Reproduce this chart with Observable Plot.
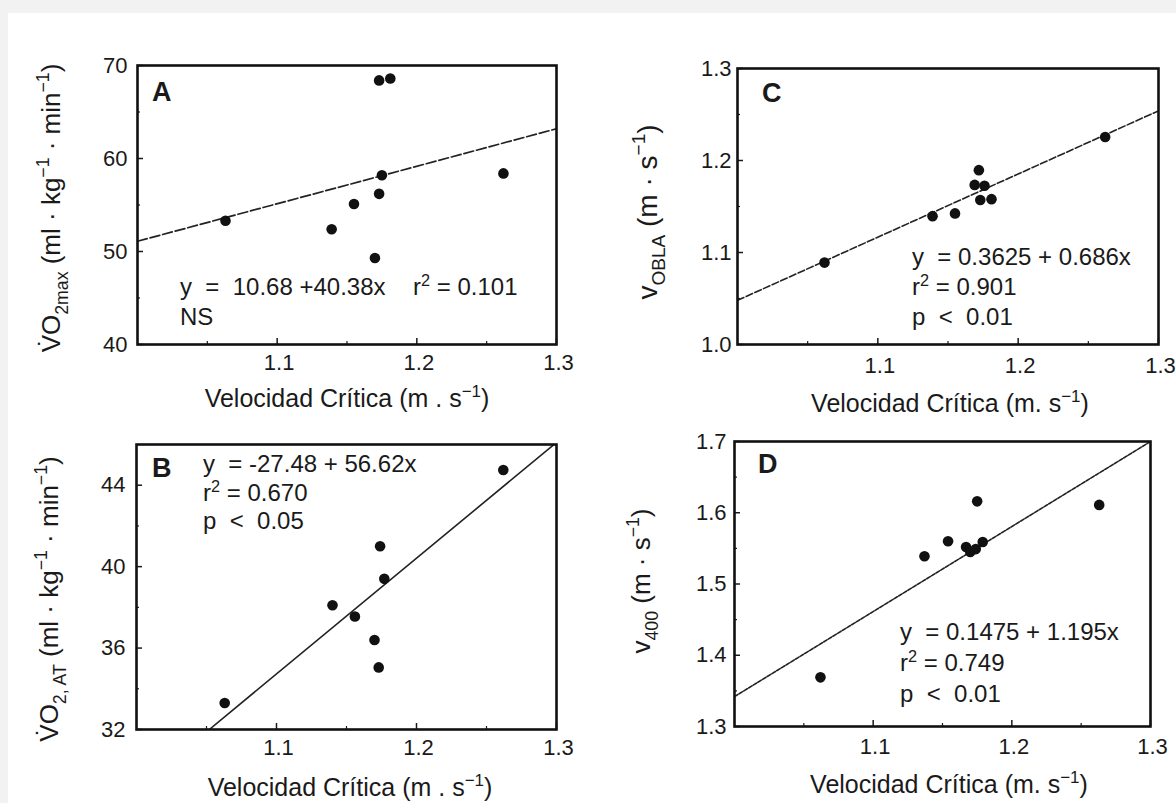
<!DOCTYPE html>
<html><head><meta charset="utf-8">
<script src="https://cdn.jsdelivr.net/npm/d3@7"></script>
<script src="https://cdn.jsdelivr.net/npm/@observablehq/plot@0.6"></script>
<style>
html,body{margin:0;padding:0;background:#f2f2f2;}
#page{position:relative;width:1176px;height:803px;background:#f2f2f2;overflow:hidden;}
#sheet{position:absolute;left:8px;top:13px;right:0;bottom:0;background:#fff;}
#page svg{position:absolute;overflow:visible;}
</style></head>
<body><div id="page"><div id="sheet"></div></div>
<script>
// ---- data ----
const xA = [1.063, 1.139, 1.155, 1.170, 1.173, 1.175, 1.173, 1.181, 1.262];
const yA = [53.3, 52.4, 55.1, 49.3, 56.2, 58.2, 68.4, 68.6, 58.4];
const xB = [1.063, 1.140, 1.156, 1.170, 1.173, 1.174, 1.177, 1.262];
const yB = [33.3, 38.1, 37.55, 36.4, 35.05, 41.0, 39.4, 44.75];
const xC = [1.062, 1.139, 1.155, 1.169, 1.172, 1.176, 1.173, 1.181, 1.262];
const yC = [1.089, 1.1395, 1.1425, 1.1735, 1.1895, 1.1725, 1.157, 1.158, 1.2256];
const xD = [1.062, 1.137, 1.154, 1.167, 1.170, 1.174, 1.179, 1.175, 1.263];
const yD = [1.369, 1.539, 1.560, 1.552, 1.545, 1.549, 1.559, 1.616, 1.611];

// regression lines (end points)
const lineXA = [1.0, 1.3],   lineYA = [51.1, 63.2];
const lineXB = [1.052, 1.3], lineYB = [32, 46.1];
const lineXC = [1.0, 1.3],   lineYC = [1.048, 1.254];
const lineXD = [1.0, 1.3],   lineYD = [1.342, 1.70];

// ticks
const xTicks = [1.1, 1.2, 1.3];
const xMinor = [1.05, 1.15, 1.25];
const yTicksA = [40, 50, 60, 70], yMinorA = [45, 55, 65];
const yTicksB = [32, 36, 40, 44], yMinorB = [34, 38, 42];
const yTicksC = [1.0, 1.1, 1.2, 1.3], yMinorC = [1.05, 1.15, 1.25];
const yTicksD = [1.3, 1.4, 1.5, 1.6, 1.7], yMinorD = [1.35, 1.45, 1.55, 1.65];

// texts
const stats = {
  A: [["y  =  10.68 +40.38x"], ["NS"]],
  B: [["y  = -27.48 + 56.62x"], ["r", "2", " = 0.670"], ["p  <  0.05"]],
  C: [["y  = 0.3625 + 0.686x"], ["r", "2", " = 0.901"], ["p  <  0.01"]],
  D: [["y  = 0.1475 + 1.195x"], ["r", "2", " = 0.749"], ["p  <  0.01"]]
};

const FONT = '"Liberation Sans", Arial, Helvetica, sans-serif';
const INK = "#1a1a1a";

function rich(svg, {x, y, parts, size, anchor = "start", rotate = 0, weight = "normal", sup = 0.42}) {
  const t = svg.append("text")
    .attr("transform", `translate(${x},${y})` + (rotate ? ` rotate(${rotate})` : ""))
    .attr("text-anchor", anchor)
    .attr("font-family", FONT).attr("font-size", size).attr("font-weight", weight)
    .attr("fill", INK).style("white-space", "pre");
  let cur = 0;
  for (const [s, k] of parts) {
    const target = k === "sub" ? 0.3 * size : k === "sup" ? -sup * size : 0;
    const ts = t.append("tspan").text(s).attr("dy", target - cur);
    if (k !== "n") ts.attr("font-size", size * 0.68);
    cur = target;
  }
  return t;
}

function statLines(svg, lines, x, ys, size) {
  lines.forEach((ln, i) => {
    const parts = ln.length === 3 ? [[ln[0], "n"], [ln[1], "sup"], [ln[2], "n"]] : [[ln[0], "n"]];
    rich(svg, {x, y: ys[i], parts, size, sup: 0.36});
  });
}

function panel(c) {
  const pts = c.xs.map((x, i) => ({x, y: c.ys[i]}));
  const reg = c.lx.map((x, i) => ({x, y: c.ly[i]}));
  const fw = c.w - c.m[0] - c.m[2], fh = c.h - c.m[1] - c.m[3];
  const [y0, y1] = c.yDomain;
  const ux = 0.3 / fw, uy = (y1 - y0) / fh; // data units per pixel
  const node = Plot.plot({
    width: c.w, height: c.h,
    marginLeft: c.m[0], marginTop: c.m[1], marginRight: c.m[2], marginBottom: c.m[3],
    x: {domain: [1.0, 1.3]},
    y: {domain: c.yDomain},
    style: {background: "transparent", fontFamily: FONT, fontSize: "22px", color: INK, overflow: "visible"},
    marks: [
      // inward ticks
      Plot.ruleX(xTicks, {x: d => d, y1: y0, y2: y0 + 6 * uy, stroke: INK, strokeWidth: 1.5}),
      Plot.ruleX(xMinor, {x: d => d, y1: y0, y2: y0 + 3 * uy, stroke: INK, strokeWidth: 1.2}),
      Plot.ruleY(c.yTicks, {y: d => d, x1: 1.0, x2: 1.0 + 6 * ux, stroke: INK, strokeWidth: 1.5}),
      Plot.ruleY(c.yMinor, {y: d => d, x1: 1.0, x2: 1.0 + 3 * ux, stroke: INK, strokeWidth: 1.2}),
      // tick labels
      Plot.axisX(xTicks, {anchor: "bottom", tickSize: 0, tickPadding: c.xPad, tickFormat: d3.format(".1f"), label: null, dx: 2}),
      Plot.axisY(c.yTicks, {anchor: "left", tickSize: 0, tickPadding: c.yPad, tickFormat: d3.format(c.yFmt), label: null}),
      Plot.line(reg, {x: "x", y: "y", stroke: "#222", strokeWidth: c.lw, strokeDasharray: c.dash, clip: true}),
      Plot.dot(pts, {x: "x", y: "y", r: 5.3, fill: "#111", stroke: null}),
      Plot.frame({stroke: "#111", strokeWidth: 2.6})
    ]
  });
  node.style.left = c.left + "px";
  node.style.top = c.top + "px";
  document.getElementById("page").appendChild(node);
  const svg = d3.select(node);
  rich(svg, {x: c.letter[0], y: c.letter[1], parts: [[c.name, "n"]], size: 27, weight: "bold"});
  statLines(svg, stats[c.name], c.statX, c.statY, 24);
  if (c.extra) rich(svg, {x: c.extra[0], y: c.extra[1], parts: [["r", "n"], ["2", "sup"], [" = 0.101", "n"]], size: 24, sup: 0.36});
  rich(svg, {x: c.ylab[0], y: c.ylab[1], parts: c.ylabParts, size: c.ylabSize, anchor: "middle", rotate: -90});
  rich(svg, {x: c.xlab[0], y: c.xlab[1], parts: [[c.xlabText, "n"], ["\u22121", "sup"], [")", "n"]], size: 25, anchor: "middle"});
}

const vo2Rest = [[" (ml \u00b7 kg", "n"], ["\u22121", "sup"], [" \u00b7 min", "n"], ["\u22121", "sup"], [")", "n"]];

panel({name: "A", left: 0, top: 0, w: 588, h: 401, m: [137, 65, 32, 57],
  yDomain: [40, 70], yTicks: yTicksA, yMinor: yMinorA, yFmt: "d", xPad: 10, yPad: 10,
  xs: xA, ys: yA, lx: lineXA, ly: lineYA, dash: "10,3", lw: 1.7,
  letter: [152, 101], statX: 180, statY: [295, 325], extra: [413, 295],
  ylab: [60, 208], ylabSize: 26, ylabParts: [["V\u0307O", "n"], ["2max", "sub"], ...vo2Rest],
  xlab: [347, 407], xlabText: "Velocidad Cr\u00edtica (m . s"});

panel({name: "C", left: 588, top: 0, w: 588, h: 401, m: [149, 68, 18, 57],
  yDomain: [1.0, 1.3], yTicks: yTicksC, yMinor: yMinorC, yFmt: ".1f", xPad: 13, yPad: 6,
  xs: xC, ys: yC, lx: lineXC, ly: lineYC, dash: "7,2.5", lw: 1.6,
  letter: [174, 102], statX: 324, statY: [265, 295, 325],
  ylab: [69, 212], ylabSize: 28, ylabParts: [["v", "n"], ["OBLA", "sub"], [" (m \u00b7 s", "n"], ["\u22121", "sup"], [")", "n"]],
  xlab: [362, 412], xlabText: "Velocidad Cr\u00edtica (m. s"});

panel({name: "B", left: 0, top: 401, w: 588, h: 402, m: [136, 43, 32, 74],
  yDomain: [32, 46], yTicks: yTicksB, yMinor: yMinorB, yFmt: "d", xPad: 10, yPad: 11,
  xs: xB, ys: yB, lx: lineXB, ly: lineYB, dash: null, lw: 1.6,
  letter: [152, 76], statX: 203, statY: [71, 100, 128],
  ylab: [58, 198], ylabSize: 26, ylabParts: [["V\u0307O", "n"], ["2, AT", "sub"], ...vo2Rest],
  xlab: [350, 395], xlabText: "Velocidad Cr\u00edtica (m . s"});

panel({name: "D", left: 588, top: 401, w: 588, h: 402, m: [146, 40, 26, 77],
  yDomain: [1.3, 1.7], yTicks: yTicksD, yMinor: yMinorD, yFmt: ".1f", xPad: 12, yPad: 8,
  xs: xD, ys: yD, lx: lineXD, ly: lineYD, dash: "4,1.5", lw: 1.6,
  letter: [170, 72], statX: 312, statY: [239, 270, 301],
  ylab: [62, 180], ylabSize: 26, ylabParts: [["v", "n"], ["400", "sub"], [" (m \u00b7 s", "n"], ["\u22121", "sup"], [")", "n"]],
  xlab: [361, 392], xlabText: "Velocidad Cr\u00edtica (m. s"});
</script>
</body></html>
